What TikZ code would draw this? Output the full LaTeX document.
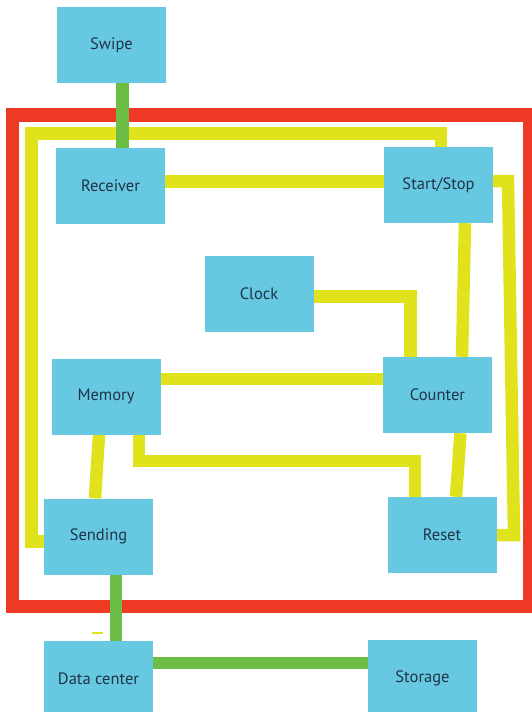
\documentclass[tikz,border=0pt]{standalone}
\usepackage{fontspec}
\setmainfont{PT Sans}
\usetikzlibrary{calc,backgrounds}
\definecolor{boxfill}{HTML}{67C9E1}
\definecolor{boxtext}{HTML}{1F3447}
\definecolor{wireyellow}{HTML}{E0E31C}
\definecolor{wiregreen}{HTML}{6CBD45}
\definecolor{framered}{HTML}{EE3A24}
\tikzset{
  unit/.style={rectangle, fill=boxfill, draw=none, minimum width=109pt,
    minimum height=76pt, inner sep=0pt, text=boxtext,
    font=\fontsize{16.5}{19}\selectfont},
  ywire/.style={draw=wireyellow, line width=12.5pt},
  gwire/.style={draw=wiregreen, line width=12.5pt},
  frame/.style={draw=framered, line width=13.5pt}
}
\begin{document}
\begin{tikzpicture}[x=1pt,y=1pt]
\useasboundingbox (0,0) rectangle (531,-712);
\clip (0,0) rectangle (531,-712);

% units
\node[unit] (swipe)   at (111.5,-45)  {Swipe};
\node[unit] (recv)    at (110.5,-186) {Receiver};
\node[unit] (ss)      at (438.5,-185) {Start/Stop};
\node[unit] (clock)   at (259,-293.5) {Clock};
\node[unit] (mem)     at (106,-396.5) {Memory};
\node[unit] (count)   at (437.5,-395) {Counter};
\node[unit] (send)    at (98.5,-536.5){Sending};
\node[unit] (reset)   at (442,-535)   {Reset};
\node[unit] (dc)      at (98.5,-679)  {Data center};
\node[unit] (store)   at (422.5,-678) {Storage};

% routing points
\coordinate (loopNW) at (31.5,-133.5);
\coordinate (rightN) at (508,-181);
\coordinate (rightS) at (514,-535);
\coordinate (memMid) at (415,-461);

\begin{scope}[on background layer]
  % outer frame of the device
  \draw[frame] (12.5,-115) rectangle (529.5,-606.5);

  % yellow internal wiring
  \draw[ywire] ([xshift=2.5pt]ss.north) |- (loopNW) |- ([yshift=-5pt]send.west);
  \draw[ywire] ([yshift=4.5pt]recv.east) -- ([yshift=3.5pt]ss.west);
  \draw[ywire] ([yshift=4pt]ss.east) -- (rightN) -- (rightS) -- (reset.east);
  \draw[ywire] ([xshift=26.5pt]ss.south) -- ([xshift=24.5pt]count.north);
  \draw[ywire] ([yshift=-3pt]clock.east) -| ([xshift=-27pt]count.north);
  \draw[ywire] ([yshift=17.5pt]mem.east) -- ([yshift=16pt]count.west);
  \draw[ywire] ([xshift=-7pt]mem.south) -- ([xshift=-3.5pt]send.north);
  \draw[ywire] ([xshift=33pt]mem.south) |- (memMid) -- ([xshift=-27pt]reset.north);
  \draw[ywire] ([xshift=23pt]count.south) -- ([xshift=14pt]reset.north);
  \draw[draw=wireyellow, line width=1.8pt] ($(dc.north)+(-6.5,8)$) -- ($(dc.north)+(4.5,8)$);

  % green external links
  \draw[gwire] ([xshift=11pt]swipe.south) -- ([xshift=12pt]recv.north);
  \draw[gwire] ([xshift=17.5pt]send.south) -- ([xshift=17.5pt]dc.north);
  \draw[gwire] ([yshift=16pt]dc.east) -- ([yshift=15pt]store.west);
\end{scope}
\end{tikzpicture}
\end{document}
